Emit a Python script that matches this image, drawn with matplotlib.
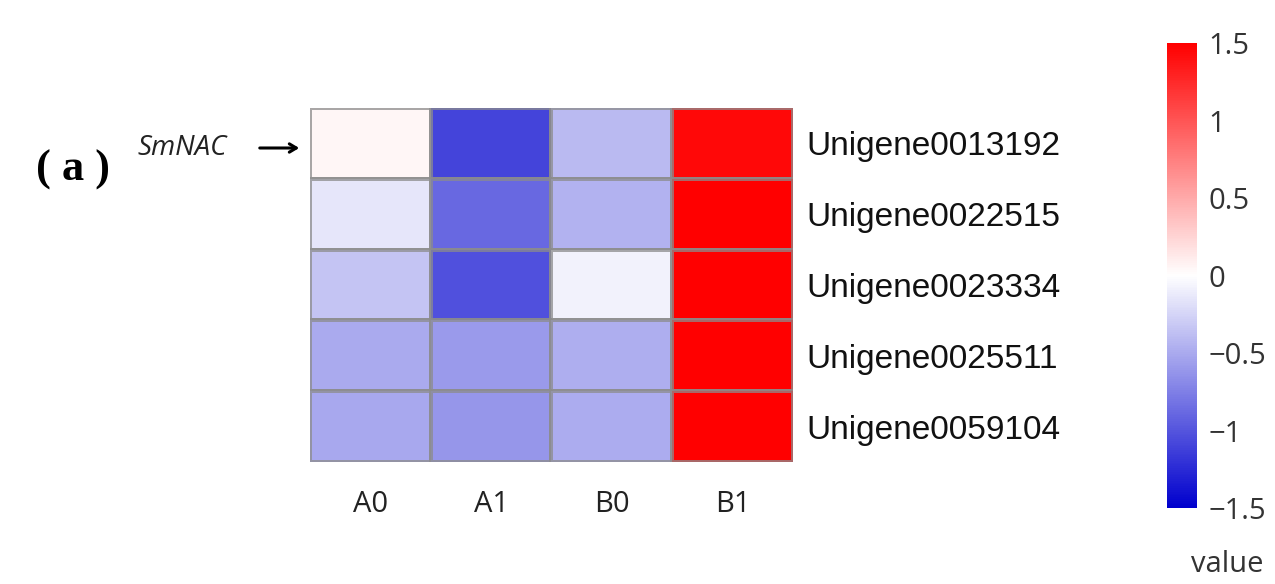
import numpy as np
import matplotlib
matplotlib.use("Agg")
import matplotlib.pyplot as plt
from matplotlib.colors import LinearSegmentedColormap

# expression values (rows = genes, cols = samples)
samples = ["A0", "A1", "B0", "B1"]
genes = ["Unigene0013192", "Unigene0022515", "Unigene0023334",
         "Unigene0025511", "Unigene0059104"]
row1 = [0.05, -1.09, -0.41, 1.45]
row2 = [-0.15, -0.88, -0.45, 1.5]
row3 = [-0.35, -1.03, -0.08, 1.5]
row4 = [-0.50, -0.59, -0.47, 1.5]
row5 = [-0.51, -0.62, -0.49, 1.5]
cbar_ticks = [-1.5, -1, -0.5, 0, 0.5, 1, 1.5]
cbar_labels = ["\u22121.5", "\u22121", "\u22120.5", "0", "0.5", "1", "1.5"]

data = np.array([row1, row2, row3, row4, row5])

cmap = LinearSegmentedColormap.from_list("bwr2", ["#0000CD", "#FFFFFF", "#FF0000"])

fig = plt.figure(figsize=(12.75, 5.84), dpi=100)
ax = fig.add_axes([0.2431, 0.209, 0.3788, 0.606])

mesh = ax.pcolormesh(data, cmap=cmap, vmin=-1.5, vmax=1.5,
                     edgecolors=(0.55, 0.55, 0.55, 0.75), linewidth=1.5)
ax.set_xlim(0, len(samples))
ax.set_ylim(len(genes), 0)
for s in ax.spines.values():
    s.set_visible(False)

ax.set_xticks(np.arange(len(samples)) + 0.5)
ax.set_xticklabels(samples, fontsize=21, family="Open Sans", color="#222222")
ax.tick_params(axis="x", length=0, pad=20)

ax.yaxis.tick_right()
ax.set_yticks(np.arange(len(genes)) + 0.5)
ax.set_yticklabels(genes, fontsize=24, family="Liberation Sans", color="#111111")
ax.tick_params(axis="y", length=0, pad=10)

# colour bar
cax = fig.add_axes([0.9153, 0.130, 0.0235, 0.796])
cb = fig.colorbar(mesh, cax=cax)
cb.outline.set_visible(False)
cb.set_ticks(cbar_ticks)
cb.set_ticklabels(cbar_labels)
cax.tick_params(length=0, pad=8, labelsize=21, labelcolor="#333333")
for lab in cax.get_yticklabels():
    lab.set_family("Open Sans")
fig.text(1227 / 1275, 1 - 572 / 584, "value", ha="center", va="baseline",
         fontsize=21, family="Open Sans", color="#333333")

# panel label and marker
fig.text(36 / 1275, 1 - 170 / 584, "( a )", ha="left", va="center",
         fontsize=32, fontweight="bold", family="Liberation Serif")
fig.text(137 / 1275, 1 - 148 / 584, "SmNAC", ha="left", va="center",
         fontsize=20, style="italic", family="Open Sans", color="#222222")
ax.annotate("", xy=(302 / 1275, 1 - 148 / 584), xytext=(257 / 1275, 1 - 148 / 584),
            xycoords="figure fraction", textcoords="figure fraction",
            arrowprops=dict(arrowstyle="->,head_length=0.5,head_width=0.3",
                            lw=2.2, color="black"))

fig.savefig("out.png", dpi=100)
